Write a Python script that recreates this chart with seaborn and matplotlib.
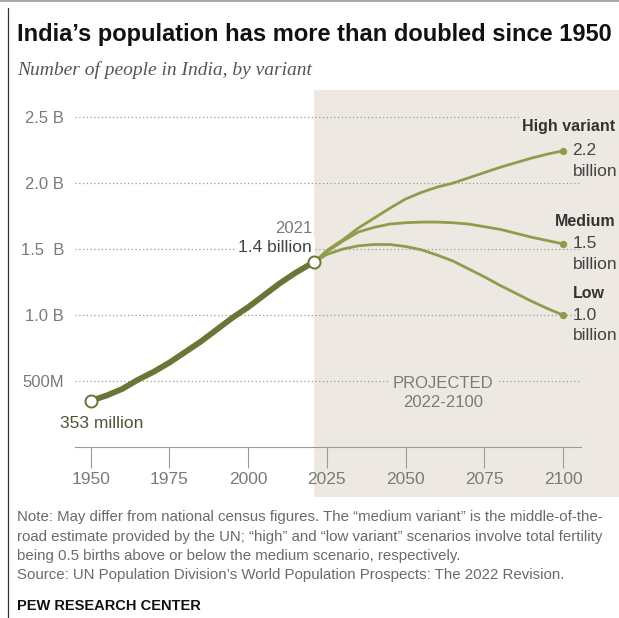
import matplotlib
matplotlib.use("Agg")
import matplotlib.pyplot as plt
import seaborn as sns
import pandas as pd
from matplotlib.lines import Line2D

# historical population, billions
hist_years = [1950, 1955, 1960, 1965, 1970, 1975, 1980, 1985, 1990, 1995, 2000, 2005, 2010, 2015, 2020, 2021]
hist_pop = [0.35, 0.39, 0.44, 0.51, 0.57, 0.64, 0.72, 0.80, 0.89, 0.98, 1.06, 1.15, 1.24, 1.32, 1.39, 1.40]

# projections 2021-2100 by variant, billions
proj_years = [2021, 2025, 2030, 2035, 2040, 2045, 2050, 2055, 2060, 2065, 2070, 2075, 2080, 2085, 2090, 2095, 2100]
high_pop = [1.40, 1.49, 1.57, 1.66, 1.735, 1.81, 1.88, 1.93, 1.97, 2.00, 2.04, 2.08, 2.12, 2.155, 2.19, 2.22, 2.245]
medium_pop = [1.40, 1.48, 1.56, 1.63, 1.665, 1.69, 1.70, 1.705, 1.705, 1.70, 1.69, 1.67, 1.65, 1.62, 1.59, 1.565, 1.54]
low_pop = [1.40, 1.46, 1.50, 1.525, 1.535, 1.535, 1.52, 1.495, 1.455, 1.41, 1.35, 1.29, 1.225, 1.165, 1.105, 1.05, 1.00]

variants = ["High variant", "Medium", "Low"]
variant_label_y = [2.43, 1.71, 1.165]
end_values = ["2.2", "1.5", "1.0"]

y_ticks = [0.5, 1.0, 1.5, 2.0, 2.5]
y_labels = ["500M", "1.0 B", "1.5  B", "2.0 B", "2.5 B"]
x_ticks = [1950, 1975, 2000, 2025, 2050, 2075, 2100]

DARK = "#6a7637"
LIGHT = "#8e9d4b"
SHADE = "#ede9e2"
GRAY = "#7a7a7a"

sns.set_style("white")
plt.rcParams["font.family"] = ["Liberation Sans", "DejaVu Sans"]

fig = plt.figure(figsize=(6.19, 6.18), dpi=100)
ax = fig.add_axes([75 / 619, 171 / 618, 506 / 619, 343 / 618])
ax.set_xlim(1945, 2105.7)
ax.set_ylim(0, 2.6)

# projected shading
ax.axvspan(2021, 2130, ymin=-0.146, ymax=1.041, color=SHADE, zorder=0, clip_on=False, lw=0)

for yv in y_ticks:
    ax.axhline(yv, color="#9a9a9a", lw=0.9, ls=(0, (1, 2)), zorder=1)

hist_df = pd.DataFrame({"year": hist_years, "pop": hist_pop})
sns.lineplot(data=hist_df, x="year", y="pop", color=DARK, lw=4.2, ax=ax, zorder=4,
             solid_capstyle="round")

proj_df = pd.DataFrame({
    "year": proj_years * 3,
    "pop": high_pop + medium_pop + low_pop,
    "variant": [variants[0]] * len(proj_years) + [variants[1]] * len(proj_years) + [variants[2]] * len(proj_years),
})
sns.lineplot(data=proj_df, x="year", y="pop", hue="variant", palette=[LIGHT] * 3,
             lw=2.0, ax=ax, legend=False, zorder=3)

# end dots
ends = [high_pop[-1], medium_pop[-1], low_pop[-1]]
ax.scatter([proj_years[-1]] * 3, ends, s=28, color=LIGHT, zorder=5, lw=0)

# open circles at 1950 and 2021
ax.scatter([hist_years[0], hist_years[-1]], [hist_pop[0], hist_pop[-1]], s=75,
           facecolor="white", edgecolor=DARK, lw=1.4, zorder=6)

ax.set_xticks(x_ticks)
ax.set_xticklabels([str(x) for x in x_ticks], fontsize=12.5, color=GRAY)
ax.set_yticks(y_ticks)
ax.set_yticklabels(y_labels, fontsize=12, color=GRAY)
ax.tick_params(axis="x", bottom=True, length=15, width=0.8, color="#9a9a9a", pad=3)
ax.tick_params(axis="y", left=False, length=0, pad=8)
for s in ["top", "right", "left"]:
    ax.spines[s].set_visible(False)
ax.spines["bottom"].set_color("#9a9a9a")
ax.spines["bottom"].set_linewidth(0.8)
ax.set_xlabel("")
ax.set_ylabel("")
ax.patch.set_alpha(0)

# annotations
ax.text(2020.3, 1.66, "2021", ha="right", va="center", fontsize=12, color=GRAY)
ax.text(2020.3, 1.515, "1.4 billion", ha="right", va="center", fontsize=12.5, color="#444444",
        bbox=dict(facecolor="white", edgecolor="none", pad=2))
ax.text(1953.5, 0.18, "353 million", ha="center", va="center", fontsize=12.5, color="#4f5438")

for name, ly, val, ev in zip(variants, variant_label_y, end_values, ends):
    if name == "Low":
        ax.text(2103, ly, name, ha="left", va="center", fontsize=11.5, fontweight="bold",
                color="#333333", clip_on=False)
    else:
        ax.text(2116.5, ly, name, ha="right", va="center", fontsize=11.5, fontweight="bold",
                color="#333333", clip_on=False,
                bbox=dict(facecolor=SHADE, edgecolor="none", pad=2))
    ax.text(2103, ev, val, ha="left", va="center", fontsize=12.5, color="#444444", clip_on=False)
    ax.text(2103, ev - 0.155, "billion", ha="left", va="center", fontsize=12.5, color="#444444",
            clip_on=False)

ax.text(2062, 0.41, "PROJECTED\n2022-2100", ha="center", va="center", fontsize=12,
        color=GRAY, linespacing=1.35,
        bbox=dict(facecolor=SHADE, edgecolor="none", pad=3))

# titles and notes
fig.text(17 / 619, 1 - 35 / 618, "India\u2019s population has more than doubled since 1950",
         fontsize=17, fontweight="bold", color="#111111", va="center", ha="left")
fig.text(17 / 619, 1 - 70 / 618, "Number of people in India, by variant", fontsize=14,
         style="italic", color="#555555", va="center", ha="left",
         family=["Liberation Serif", "DejaVu Serif"])

note = ("Note: May differ from national census figures. The \u201cmedium variant\u201d is the middle-of-the-\n"
        "road estimate provided by the UN; \u201chigh\u201d and \u201clow variant\u201d scenarios involve total fertility\n"
        "being 0.5 births above or below the medium scenario, respectively.\n"
        "Source: UN Population Division\u2019s World Population Prospects: The 2022 Revision.")
fig.text(17 / 619, 1 - 510 / 618, note, fontsize=10.8, color="#6a6a6a", va="top", ha="left",
         linespacing=1.5)
fig.text(17 / 619, 1 - 606 / 618, "PEW RESEARCH CENTER", fontsize=10.5, fontweight="bold",
         color="#111111", va="center", ha="left")

# frame lines
fig.add_artist(Line2D([8 / 619, 8 / 619], [0, 1 - 8 / 618], color="#333333", lw=0.9))
fig.add_artist(Line2D([0, 1], [1 - 1 / 618, 1 - 1 / 618], color="#999999", lw=1.2))

fig.savefig("out.png", dpi=100)
